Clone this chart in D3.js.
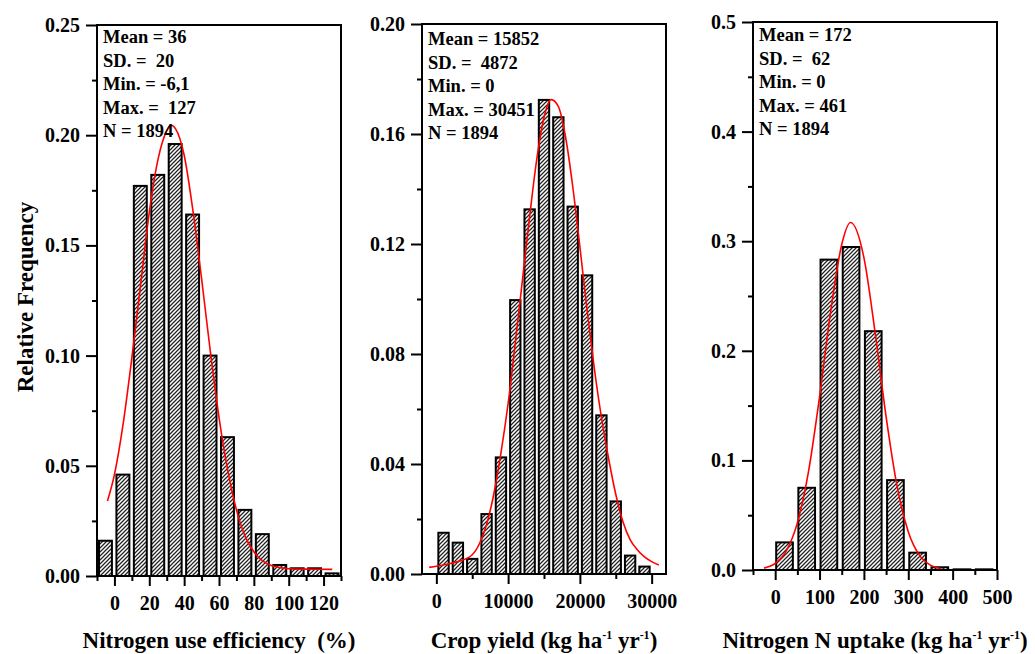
<!DOCTYPE html>
<html>
<head>
<meta charset="utf-8">
<script src="https://cdn.jsdelivr.net/npm/d3@7/dist/d3.min.js"></script>
<style>
body { margin: 0; background: #fff; }
svg { display: block; font-family: "Liberation Serif", "Times New Roman", serif; font-weight: bold; }
text { white-space: pre; }
</style>
</head>
<body>
<svg id="chart" width="1035" height="654"></svg>
<script>
// --- nitrogen use efficiency (%) ---
let nueBinStarts = [-10, 0, 10, 20, 30, 40, 50, 60, 70, 80, 90, 100, 110, 120];
let nueFreq = [0.016, 0.046, 0.177, 0.182, 0.196, 0.164, 0.100, 0.063, 0.030, 0.019, 0.005, 0.0035, 0.0035, 0.0012];
let nueFitX = [-4, 0, 5, 10, 15, 20, 25, 30, 32.5, 35, 40, 45, 50, 55, 60, 65, 70, 75, 80, 85, 90, 95, 100, 110, 125];
let nueFitY = [0.034, 0.046, 0.069, 0.099, 0.132, 0.165, 0.189, 0.202, 0.2045, 0.203, 0.191, 0.166, 0.135, 0.102, 0.072, 0.048, 0.030, 0.018, 0.011, 0.0069, 0.0048, 0.0038, 0.0033, 0.0031, 0.003];
let nueStats = ["Mean = 36", "SD. =  20", "Min. = -6,1", "Max. =  127", "N = 1894"];
let nueXTicks = [0, 20, 40, 60, 80, 100, 120];
let nueXMinor = [-10, 10, 30, 50, 70, 90, 110, 130];
let nueYTicks = [0, 0.05, 0.10, 0.15, 0.20, 0.25];
let nueYMinor = [0.025, 0.075, 0.125, 0.175, 0.225];

// --- crop yield (kg ha-1 yr-1) ---
let yieldBinStarts = [0, 2000, 4000, 6000, 8000, 10000, 12000, 14000, 16000, 18000, 20000, 22000, 24000, 26000, 28000];
let yieldFreq = [0.0150, 0.0114, 0.0055, 0.0218, 0.0424, 0.0996, 0.1326, 0.1724, 0.1661, 0.1336, 0.1086, 0.0577, 0.0264, 0.0067, 0.0027];
let yieldFitX = [-1000, 1000, 3000, 5000, 6000, 7000, 8000, 9000, 10000, 11000, 12000, 13000, 14000, 15000, 16000, 17000, 18000, 19000, 20000, 21000, 22000, 23000, 24000, 25000, 26000, 27000, 28000, 29000, 30000, 31000];
let yieldFitY = [0.0024, 0.0033, 0.0045, 0.007, 0.011, 0.018, 0.029, 0.044, 0.062, 0.084, 0.107, 0.130, 0.151, 0.166, 0.1725, 0.170, 0.159, 0.141, 0.119, 0.096, 0.075, 0.057, 0.042, 0.029, 0.019, 0.0125, 0.0088, 0.0062, 0.0045, 0.0033];
let yieldStats = ["Mean = 15852", "SD. =  4872", "Min. = 0", "Max. = 30451", "N = 1894"];
let yieldXTicks = [0, 10000, 20000, 30000];
let yieldXMinor = [5000, 15000, 25000];
let yieldYTicks = [0, 0.04, 0.08, 0.12, 0.16, 0.20];
let yieldYMinor = [0.02, 0.06, 0.10, 0.14, 0.18];

// --- nitrogen N uptake (kg ha-1 yr-1) ---
let uptakeBinStarts = [0, 50, 100, 150, 200, 250, 300, 350, 400, 450];
let uptakeFreq = [0.0252, 0.075, 0.2832, 0.2947, 0.2179, 0.082, 0.0158, 0.0025, 0.0006, 0.0006];
let uptakeFitX = [-25, 0, 25, 50, 75, 100, 125, 150, 170, 200, 225, 250, 275, 300, 325, 350, 375];
let uptakeFitY = [0.0017, 0.006, 0.0174, 0.043, 0.0895, 0.158, 0.2355, 0.297, 0.317, 0.285, 0.2174, 0.140, 0.076, 0.035, 0.0136, 0.0045, 0.0012];
let uptakeStats = ["Mean = 172", "SD. =  62", "Min. = 0", "Max. = 461", "N = 1894"];
let uptakeXTicks = [0, 100, 200, 300, 400, 500];
let uptakeXMinor = [-50, 50, 150, 250, 350, 450];
let uptakeYTicks = [0, 0.1, 0.2, 0.3, 0.4, 0.5];
let uptakeYMinor = [0.05, 0.15, 0.25, 0.35, 0.45];

let svg = d3.select("#chart");

// hatch fill for the bars
svg.append("defs").append("pattern")
    .attr("id", "hatch")
    .attr("patternUnits", "userSpaceOnUse")
    .attr("width", 4)
    .attr("height", 4)
    .append("path")
    .attr("d", "M-1,1 l2,-2 M0,4 l4,-4 M3,5 l2,-2")
    .attr("stroke", "#222")
    .attr("stroke-width", 1.25);

svg.append("rect").attr("width", 1035).attr("height", 654).attr("fill", "#fff").lower();

let panels = [
    {starts: nueBinStarts, binW: 10, freq: nueFreq, fitX: nueFitX, fitY: nueFitY, stats: nueStats,
     xDomain: [-10, 130], yDomain: [0, 0.25], xTicks: nueXTicks, xMinor: nueXMinor,
     yTicks: nueYTicks, yMinor: nueYMinor, yFmt: ".2f",
     left: 97, right: 341, top: 25, bottom: 576, inset: [2, 2.5], statsTop: 43,
     title: [["Nitrogen use efficiency  (%)", 0]]},
    {starts: yieldBinStarts, binW: 2000, freq: yieldFreq, fitX: yieldFitX, fitY: yieldFitY, stats: yieldStats,
     xDomain: [-2000, 32000], yDomain: [0, 0.20], xTicks: yieldXTicks, xMinor: yieldXMinor,
     yTicks: yieldYTicks, yMinor: yieldYMinor, yFmt: ".2f",
     left: 422, right: 666, top: 24, bottom: 574, inset: [2, 2], statsTop: 45,
     title: [["Crop yield (kg ha", 0], ["-1", 1], [" yr", 0], ["-1", 1], [")", 0]]},
    {starts: uptakeBinStarts, binW: 50, freq: uptakeFreq, fitX: uptakeFitX, fitY: uptakeFitY, stats: uptakeStats,
     xDomain: [-50, 500], yDomain: [0, 0.5], xTicks: uptakeXTicks, xMinor: uptakeXMinor,
     yTicks: uptakeYTicks, yMinor: uptakeYMinor, yFmt: ".1f",
     left: 753, right: 997, top: 22, bottom: 570, inset: [1, 4.5], statsTop: 41,
     title: [["Nitrogen N uptake (kg ha", 0], ["-1", 1], [" yr", 0], ["-1", 1], [")", 0]]}
];

panels.forEach(p => {
    let x = d3.scaleLinear().domain(p.xDomain).range([p.left, p.right]);
    let y = d3.scaleLinear().domain(p.yDomain).range([p.bottom, p.top]);
    let g = svg.append("g");

    // bars
    g.selectAll("rect.bar")
        .data(p.starts.map((s, i) => ({x0: s, x1: s + p.binW, v: p.freq[i]})))
        .enter()
        .append("rect")
        .attr("class", "bar")
        .attr("x", d => x(d.x0) + p.inset[0])
        .attr("width", d => x(d.x1) - x(d.x0) - p.inset[0] - p.inset[1])
        .attr("y", d => y(d.v))
        .attr("height", d => y(0) - y(d.v))
        .attr("fill", "url(#hatch)")
        .attr("stroke", "#000")
        .attr("stroke-width", 2);

    // fitted curve
    let line = d3.line()
        .x(d => x(d[0]))
        .y(d => y(d[1]))
        .curve(d3.curveMonotoneX);
    g.append("path")
        .datum(p.fitX.map((v, i) => [v, p.fitY[i]]))
        .attr("d", line)
        .attr("fill", "none")
        .attr("stroke", "#ff0000")
        .attr("stroke-width", 1.6);

    // frame
    g.append("rect")
        .attr("x", p.left)
        .attr("y", p.top)
        .attr("width", p.right - p.left)
        .attr("height", p.bottom - p.top)
        .attr("fill", "none")
        .attr("stroke", "#000")
        .attr("stroke-width", 2);

    // axes
    let yAxis = d3.axisLeft(y).tickValues(p.yTicks).tickFormat(d3.format(p.yFmt))
        .tickSize(11).tickPadding(6).tickSizeOuter(0);
    let yMinorAxis = d3.axisLeft(y).tickValues(p.yMinor).tickFormat("").tickSize(5).tickSizeOuter(0);
    let xAxis = d3.axisBottom(x).tickValues(p.xTicks).tickFormat(d3.format("d"))
        .tickSize(10).tickPadding(10).tickSizeOuter(0);
    let xMinorAxis = d3.axisBottom(x).tickValues(p.xMinor).tickFormat("").tickSize(5).tickSizeOuter(0);

    [[yAxis, "translate(" + p.left + ",0)"], [yMinorAxis, "translate(" + p.left + ",0)"],
     [xAxis, "translate(0," + p.bottom + ")"], [xMinorAxis, "translate(0," + p.bottom + ")"]]
        .forEach(a => {
            let ag = g.append("g").attr("transform", a[1]).call(a[0]);
            ag.select(".domain").remove();
            ag.selectAll("line").attr("stroke", "#000").attr("stroke-width", 2);
            ag.selectAll("text")
                .attr("fill", "#000")
                .style("font-family", "'Liberation Serif', 'Times New Roman', serif")
                .style("font-weight", "bold")
                .style("font-size", "20px");
        });

    // stats box text
    g.selectAll("text.stat")
        .data(p.stats)
        .enter()
        .append("text")
        .attr("class", "stat")
        .attr("x", p.left + 6)
        .attr("y", (d, i) => p.statsTop + i * 23.5)
        .style("font-size", "18.5px")
        .text(d => d);

    // x title
    let t = g.append("text")
        .attr("x", (p.left + p.right) / 2)
        .attr("y", 648)
        .attr("text-anchor", "middle")
        .style("font-size", "23px");
    p.title.forEach(seg => {
        t.append("tspan")
            .attr("dy", seg[1] ? -9 : (seg[0] === ")" || seg[0] === " yr" ? 9 : 0))
            .style("font-size", seg[1] ? "12px" : "23px")
            .text(seg[0]);
    });
});

svg.append("text")
    .attr("transform", "translate(33,297) rotate(-90)")
    .attr("text-anchor", "middle")
    .style("font-size", "23px")
    .text("Relative Frequency");
</script>
</body>
</html>
